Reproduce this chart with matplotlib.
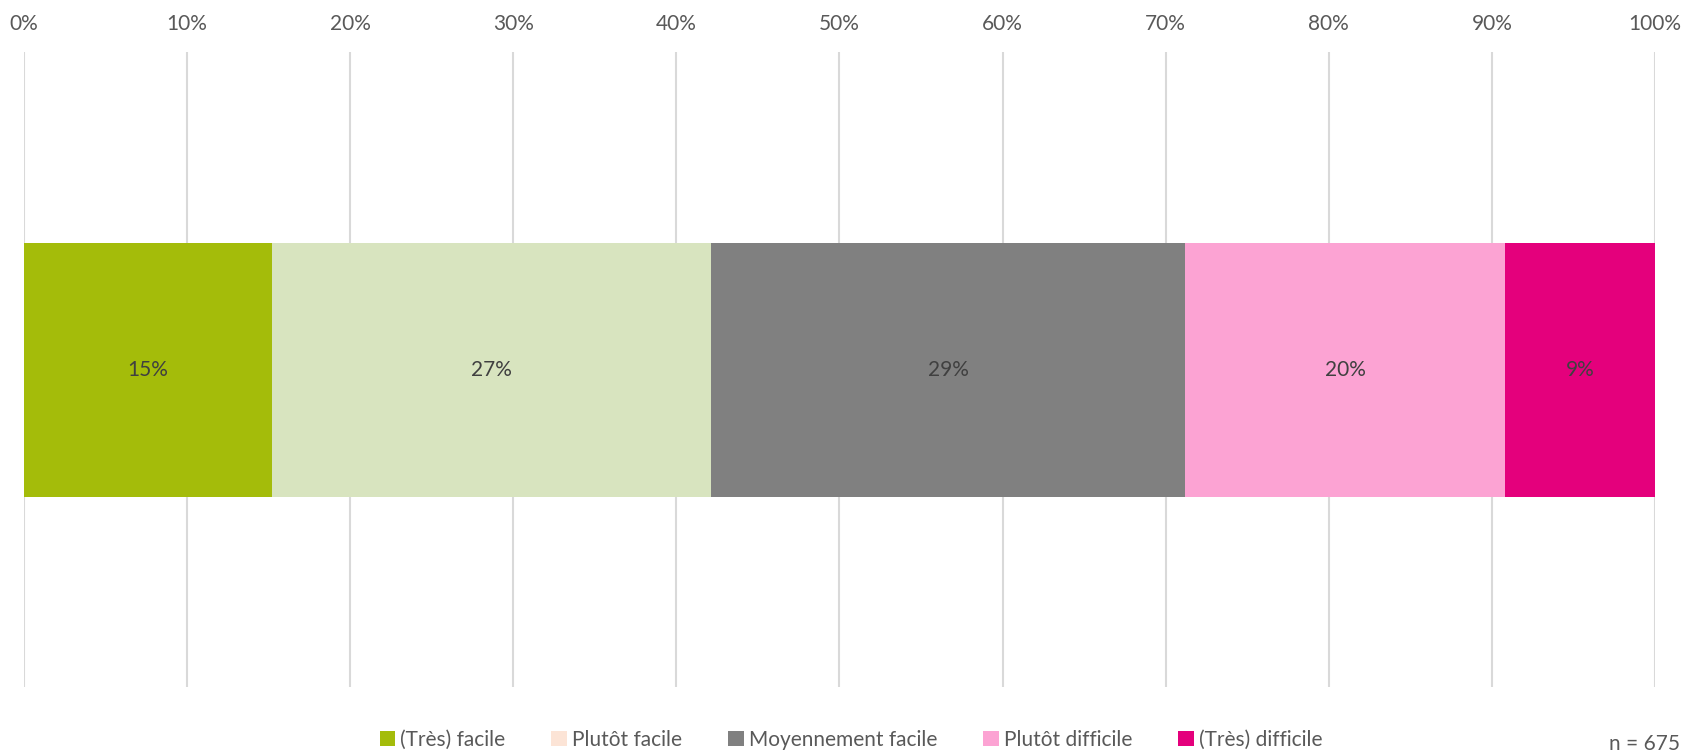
import matplotlib
matplotlib.use("Agg")
import matplotlib.pyplot as plt
from matplotlib.patches import Patch

categories = ["(Très) facile", "Plutôt facile", "Moyennement facile", "Plutôt difficile", "(Très) difficile"]
values = [15.2, 26.9, 29.1, 19.6, 9.2]
labels = ["15%", "27%", "29%", "20%", "9%"]
bar_colors = ["#A4BC0A", "#D8E4BF", "#808080", "#FCA3D3", "#E4007C"]
legend_colors = ["#A4BC0A", "#FCE4D6", "#808080", "#FCA3D3", "#E4007C"]
ticks = list(range(0, 101, 10))
tick_labels = [f"{t}%" for t in ticks]
note = "n = 675"

plt.rcParams['font.family'] = ['Lato', 'DejaVu Sans']
text_color = "#595959"
fs = 15

fig = plt.figure(figsize=(17.02, 7.52), dpi=100)
ax = fig.add_axes([24/1702, 65/752, 1631/1702, 635/752])

left = 0
for v, c, lab in zip(values, bar_colors, labels):
    ax.barh(0, v, left=left, height=0.4, color=c, zorder=3)
    ax.text(left + v/2, 0, lab, ha="center", va="center", fontsize=fs, color="#404040", zorder=4)
    left += v

ax.set_xlim(0, 100)
ax.set_ylim(-0.5, 0.5)
ax.set_xticks(ticks)
ax.set_xticklabels(tick_labels)
ax.xaxis.tick_top()
ax.tick_params(axis="x", length=0, pad=13, labelsize=fs, colors=text_color)
ax.set_yticks([])
ax.grid(axis="x", color="#D9D9D9", linewidth=1.5, zorder=0)
for s in ax.spines.values():
    s.set_visible(False)

handles = [Patch(facecolor=c, edgecolor="none") for c in legend_colors]
fig.legend(handles, categories, loc="center", bbox_to_anchor=(0.5, 0.016), ncol=5,
           frameon=False, fontsize=fs, labelcolor=text_color,
           handlelength=0.75, handleheight=0.75, handletextpad=0.25, columnspacing=2.2)

fig.text(0.987, 0.011, note, ha="right", va="center", fontsize=fs, color=text_color)

fig.savefig("out.png", dpi=100)
